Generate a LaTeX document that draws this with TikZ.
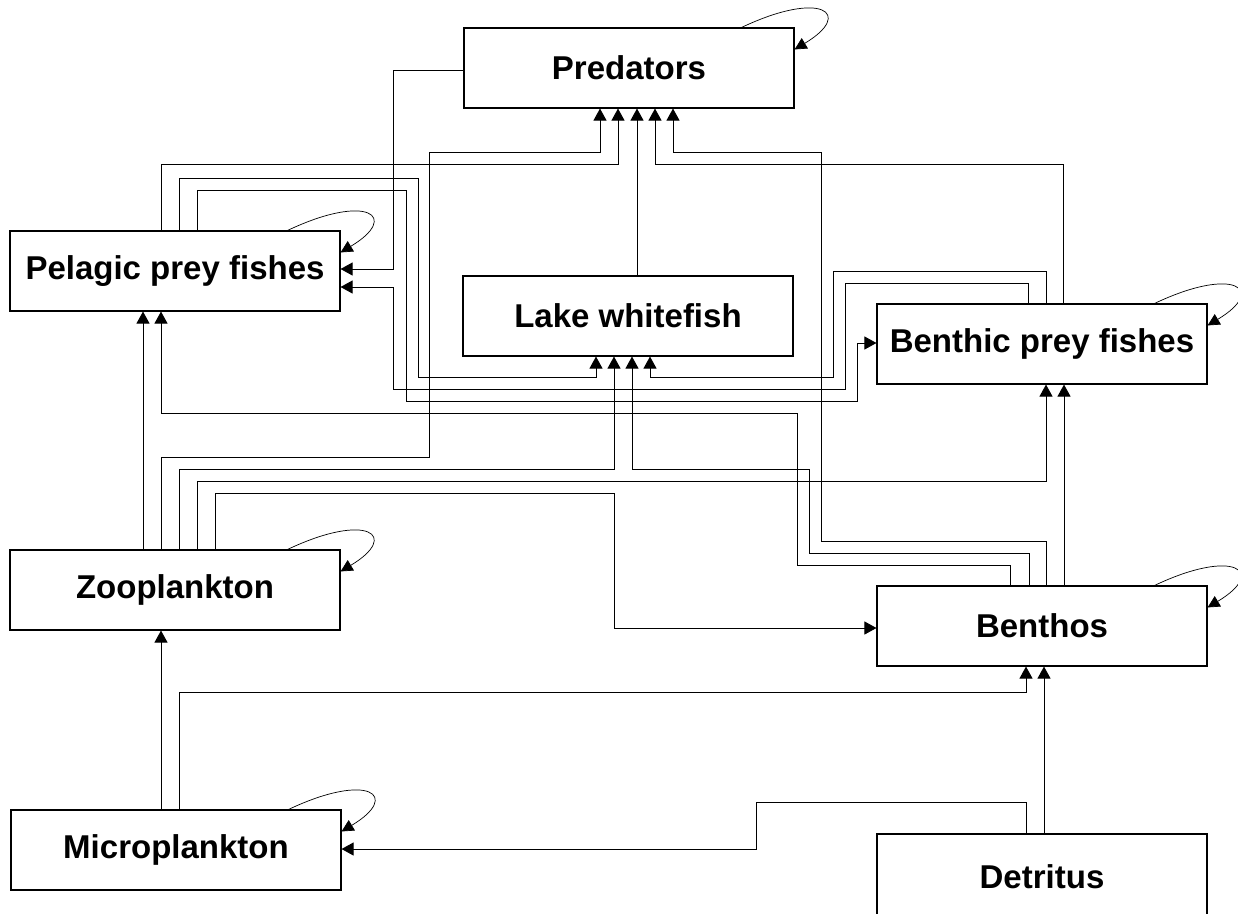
\documentclass[tikz,border=0pt]{standalone}
\usepackage{fontspec}
\setmainfont{Liberation Sans}
\usepackage{tikz}
\usetikzlibrary{arrows.meta,calc}

\begin{document}
\begin{tikzpicture}[x=1pt, y=-1pt, line width=0.9pt,
    box/.style={draw, line width=1.1pt, minimum width=330pt, minimum height=80pt, inner sep=0pt,
      font=\bfseries\fontsize{33}{40}\selectfont},
    flow/.style={-{Triangle[length=12pt,width=13pt]}},
    selfloop/.style={-{Triangle[length=12pt,width=12pt]}, line width=0.7pt}]

  \useasboundingbox (0,0) rectangle (1238,913);
  \clip (0,0) rectangle (1238,913);

  \node[box] (pred) at (629,68)  {Predators};
  \node[box] (pel)  at (175,271) {Pelagic prey fishes};
  \node[box] (lake) at (628,316) {Lake whitefish};
  \node[box] (ben)  at (1042,344) {Benthic prey fishes};
  \node[box] (zoo)  at (175,590) {Zooplankton};
  \node[box] (bth)  at (1042,626) {Benthos};
  \node[box] (mic)  at (176,850) {Microplankton};
  \node[box, minimum height=86pt] (det) at (1042,877) {Detritus};

  % into predators
  \draw[flow] (161,0|-zoo.north) |- (429,457) |- (600,152) -- (600,0|-pred.south);
  \draw[flow] (161,0|-pel.north) |- (618,164) -- (618,0|-pred.south);
  \draw[flow] (637,0|-lake.north) -- (637,0|-pred.south);
  \draw[flow] (1063,0|-ben.north) |- (655,164) -- (655,0|-pred.south);
  \draw[flow] (1046,0|-bth.north) |- (821,541) |- (673,152) -- (673,0|-pred.south);

  % into pelagic prey fishes
  \draw[flow] (pred.west|-0,70) -| (393,269) -- (pel.east|-0,269);
  \draw[flow] (1028,0|-ben.north) |- (845,283) |- (393,389) |- (pel.east|-0,287);
  \draw[flow] (143,0|-zoo.north) -- (143,0|-pel.south);
  \draw[flow] (1010,0|-bth.north) |- (797,565) |- (161,413) -- (161,0|-pel.south);

  % into lake whitefish
  \draw[flow] (179,0|-pel.north) |- (418,178) |- (596,377) -- (596,0|-lake.south);
  \draw[flow] (179,0|-zoo.north) |- (614,469) -- (614,0|-lake.south);
  \draw[flow] (1029,0|-bth.north) |- (809,553) |- (632,469) -- (632,0|-lake.south);
  \draw[flow] (1046,0|-ben.north) |- (833,271) |- (650,377) -- (650,0|-lake.south);

  % into benthic prey fishes
  \draw[flow] (197,0|-pel.north) |- (406,190) |- (857,401) |- (ben.west|-0,343);
  \draw[flow] (197,0|-zoo.north) |- (1046,481) -- (1046,0|-ben.south);
  \draw[flow] (1064,0|-bth.north) -- (1064,0|-ben.south);

  % lower levels
  \draw[flow] (215,0|-zoo.north) |- (614,493) |- (bth.west|-0,628);
  \draw[flow] (161,0|-mic.north) -- (161,0|-zoo.south);
  \draw[flow] (179,0|-mic.north) |- (1026,692) -- (1026,0|-bth.south);
  \draw[flow] (1044,0|-det.north) -- (1044,0|-bth.south);
  \draw[flow] (1026,0|-det.north) |- (756,802) |- (mic.east|-0,849);

  \foreach \n in {pred,pel,ben,zoo,bth,mic}
    \draw[selfloop] ([xshift=-53pt]\n.north east) .. controls +(80,-38) and +(60,-36) .. ([yshift=-22pt]\n.north east);
\end{tikzpicture}
\end{document}
